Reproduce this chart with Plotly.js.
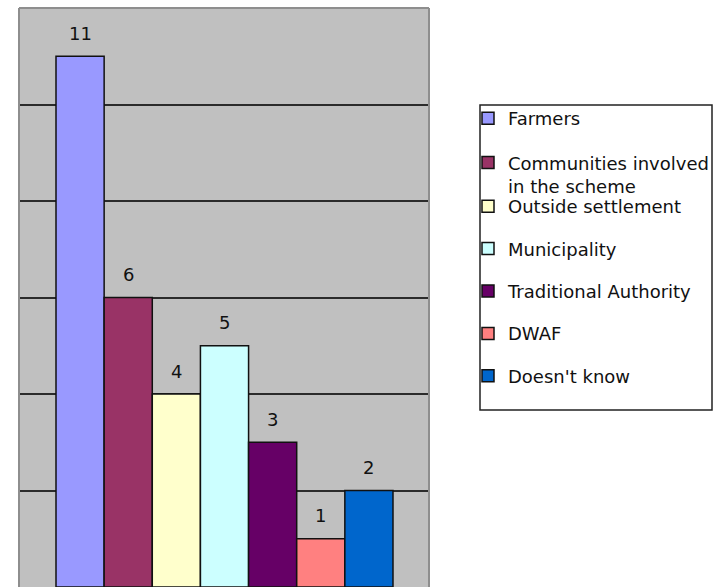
<!DOCTYPE html>
<html><head><meta charset="utf-8">
<script src="https://cdn.plot.ly/plotly-3.0.1.min.js"></script>
<style>html,body{margin:0;padding:0;background:#fff;}#chart{width:713px;height:587px;}</style>
</head><body><div id="chart"></div>
<script>
const categories = ["Farmers", "Communities involved<br>in the scheme", "Outside settlement", "Municipality", "Traditional Authority", "DWAF", "Doesn't know"];
const values = [11, 6, 4, 5, 3, 1, 2];
const gridTicks = [2, 4, 6, 8, 10];
const barColors = ["#9999FF", "#993366", "#FFFFCC", "#CCFFFF", "#660066", "#FF8080", "#0066CC"];

const FONT = 'DejaVu Sans';
const traces = categories.map((name, i) => ({
  type: 'bar', x: [i], y: [values[i]], width: [1], name: name,
  marker: {color: barColors[i], line: {color: '#111', width: 1.5}},
  legendgroup: 'g' + i, legend: i < 2 ? 'legend' : 'legend2',
  hoverinfo: 'none'
}));
const annotations = values.map((v, i) => ({
  x: i, y: v, xref: 'x', yref: 'y', text: String(v), showarrow: false,
  yanchor: 'middle', yshift: 23, font: {family: FONT, size: 18, color: '#111'}
}));
const W = 713, H = 587, L = 19, R = 429, T = 8, B = 587;
const px = x => (x - L) / (R - L);
const py = y => (B - y) / (B - T);
const shapes = [
  {type: 'line', xref: 'paper', yref: 'paper', x0: 0, x1: 0, y0: 0, y1: 1, line: {color: '#8e8e8e', width: 2}},
  {type: 'line', xref: 'paper', yref: 'paper', x0: 0, x1: 1, y0: 1, y1: 1, line: {color: '#8e8e8e', width: 2}},
  {type: 'line', xref: 'paper', yref: 'paper', x0: 1, x1: 1, y0: 0, y1: 1, line: {color: '#8e8e8e', width: 2}},
  {type: 'rect', xref: 'paper', yref: 'paper', x0: px(480), x1: px(712), y0: py(410), y1: py(105), line: {color: '#222', width: 1.5}}
];
const legendBase = {
  xref: 'container', yref: 'container', xanchor: 'left', yanchor: 'top',
  bgcolor: 'rgba(0,0,0,0)', borderwidth: 0, traceorder: 'grouped', valign: 'top',
  font: {family: FONT, size: 18, color: '#111'}
};
const layout = {
  width: W, height: H,
  margin: {l: L, r: W - R, t: T, b: H - B, pad: 0},
  paper_bgcolor: '#ffffff', plot_bgcolor: '#c0c0c0',
  barmode: 'overlay', showlegend: true,
  xaxis: {range: [-1.2686, 7.248], showgrid: false, zeroline: false, showticklabels: false, ticks: '', showline: false, fixedrange: true},
  yaxis: {range: [0, 12], tickmode: 'array', tickvals: gridTicks, showticklabels: false, ticks: '', gridcolor: '#2b2b2b', gridwidth: 2, zeroline: false, showline: false, fixedrange: true},
  legend: Object.assign({}, legendBase, {x: 468 / W, y: 1 - 100 / H, tracegroupgap: 18}),
  legend2: Object.assign({}, legendBase, {x: 468 / W, y: 1 - 188 / H, tracegroupgap: 16}),
  annotations: annotations,
  shapes: shapes
};
Plotly.newPlot('chart', traces, layout, {displayModeBar: false, staticPlot: true});
</script></body></html>
